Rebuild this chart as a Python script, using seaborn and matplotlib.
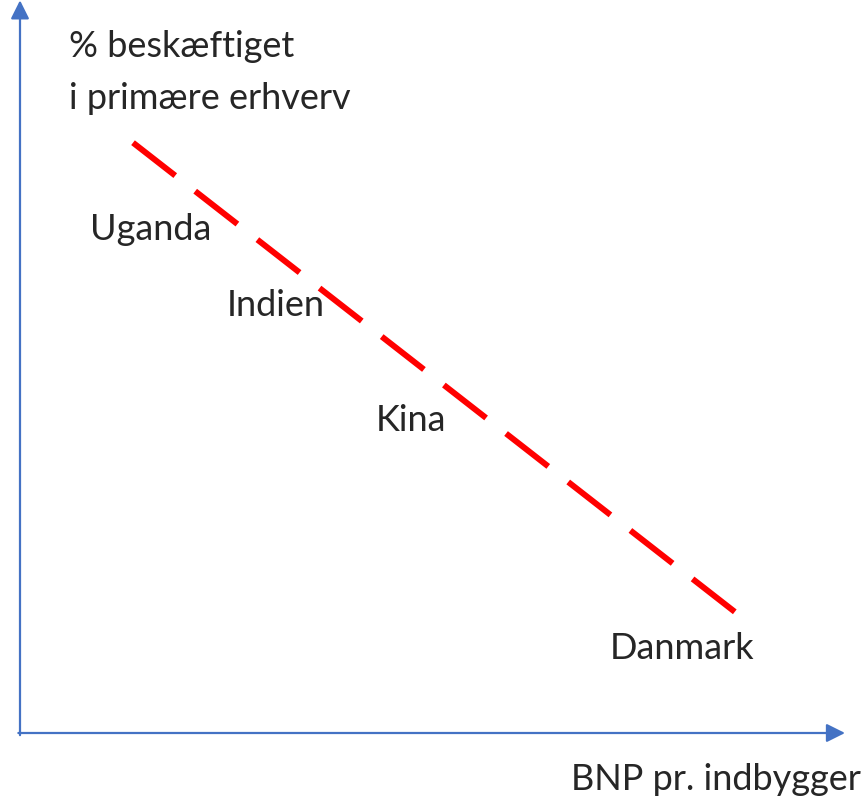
import pandas as pd
import seaborn as sns
import matplotlib.pyplot as plt

# trend line end points (BNP index, % employed in primary sector)
trend_x = [13.7, 86.7]
trend_y = [82.1, 16.8]

# country labels and where they sit on the chart
countries = ['Uganda', 'Indien', 'Kina', 'Danmark']
country_x = [15.8, 31.0, 47.4, 80.2]
country_y = [70.0, 59.5, 43.5, 11.8]

x_label = 'BNP pr. indbygger'
y_label = '% beskæftiget\ni primære erhverv'


def main():
    sns.set_style('white')
    plt.rcParams['font.family'] = ['Lato', 'DejaVu Sans']

    fig = plt.figure(figsize=(8.65, 8.10), dpi=100)
    ax = fig.add_axes([0, 0, 1, 1])

    df = pd.DataFrame({'BNP': trend_x, 'pct': trend_y})
    sns.lineplot(data=df, x='BNP', y='pct', ax=ax, color='#FF0000',
                 linewidth=4.3)
    line = ax.lines[0]
    # ten dashes with nine gaps along the line
    line.set_dashes([8.96, 4.24])
    line.set_dash_capstyle('butt')

    for name, cx, cy in zip(countries, country_x, country_y):
        ax.text(cx, cy, name, ha='center', va='center', fontsize=26,
                color='#262626')

    # axis arrows
    blue = '#4472C4'
    ax.annotate('', xy=(0, 101.9), xytext=(0, -0.3),
                arrowprops=dict(arrowstyle='-|>', color=blue, lw=1.6,
                                mutation_scale=28, shrinkA=0, shrinkB=0))
    ax.annotate('', xy=(100, 0), xytext=(-0.2, 0),
                arrowprops=dict(arrowstyle='-|>', color=blue, lw=1.6,
                                mutation_scale=28, shrinkA=0, shrinkB=0))

    ax.text(5.9, 97.8, y_label, ha='left', va='top', fontsize=26,
            color='#262626', linespacing=1.7)
    ax.text(101.9, -6.5, x_label, ha='right', va='center', fontsize=26,
            color='#262626')

    ax.set_xlim(-20 / 8.25, 845 / 8.25)
    ax.set_ylim(-77 / 7.19, 733 / 7.19)
    ax.axis('off')

    fig.savefig('out.png', dpi=100)


if __name__ == "__main__":
    main()
